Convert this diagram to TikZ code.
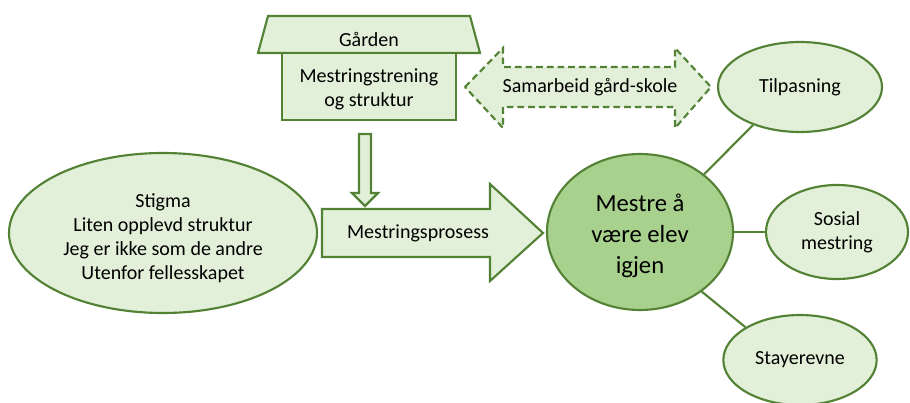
\documentclass[tikz,border=0pt]{standalone}
\usepackage{fontspec}
\setmainfont{Carlito}
\usetikzlibrary{shapes.geometric}
\definecolor{dg}{HTML}{548235}
\definecolor{lg}{HTML}{E2F0D9}
\definecolor{mg}{HTML}{A9D18E}
\tikzset{
  shp/.style={draw=dg, line width=1.6pt, fill=lg, line join=miter},
  ell/.style={shp, ellipse, inner sep=0pt},
  txt/.style={font=\fontsize{15}{18}\selectfont, align=center, inner sep=0pt, text=black},
  bigtxt/.style={font=\fontsize{18.5}{23}\selectfont, align=center, inner sep=0pt, text=black},
  link/.style={draw=dg, line width=1.6pt},
  dsh/.style={dash pattern=on 5pt off 3pt}
}
\begin{document}
\begin{tikzpicture}[x=0.75pt,y=-0.75pt]
\useasboundingbox (0,0) rectangle (910,403);
\clip (0,0) rectangle (910,403);
% house
\draw[shp] (268,16) -- (470,16) -- (480,53) -- (258,53) -- cycle;
\draw[shp] (282,53) rectangle (456,120);
\node[txt] (garden) at (369,39) {Gården};
\node[txt] (trening) at (369,89) {Mestringstrening\\og struktur};
% down arrow
\draw[shp] (359,134) -- (371,134) -- (371,193) -- (378,193) -- (365,206) -- (352,193) -- (359,193) -- cycle;
% dashed double arrow
\draw[shp, dsh] (465,87) -- (503,48) -- (503,67) -- (675,67) -- (675,48) -- (711,87) -- (675,128) -- (675,107) -- (503,107) -- (503,128) -- cycle;
\node[txt] (samarbeid) at (590,87) {Samarbeid gård-skole};
% big arrow
\draw[shp] (322,209) -- (490,209) -- (490,184) -- (543,233) -- (490,281) -- (490,257) -- (322,257) -- cycle;
\node[txt] (prosess) at (418,233) {Mestringsprosess};
% left ellipse
\node[ell, minimum width=231pt, minimum height=120pt] (stigma) at (163,233) {};
\node[txt] (stigmatxt) at (163,238) {Stigma\\Liten opplevd struktur\\Jeg er ikke som de andre\\Utenfor fellesskapet};
% center
\node[ell, fill=mg, minimum width=139.5pt, minimum height=117pt] (mestre) at (640,232) {};
\node[bigtxt] (mestretxt) at (640,236) {Mestre å\\være elev\\igjen};
% right ellipses
\node[ell, minimum width=123pt, minimum height=67.5pt, txt] (tilp) at (800,87) {Tilpasning};
\node[ell, minimum width=106.5pt, minimum height=70.5pt, txt] (sosial) at (837,232) {Sosial\\mestring};
\node[ell, minimum width=115pt, minimum height=67.5pt, txt] (stayer) at (800,360) {Stayerevne};
% connectors
\draw[link] (mestre.42) -- (tilp.219);
\draw[link] (mestre.0) -- (sosial.180);
\draw[link] (mestre.-44) -- (stayer.149);
\end{tikzpicture}
\end{document}
